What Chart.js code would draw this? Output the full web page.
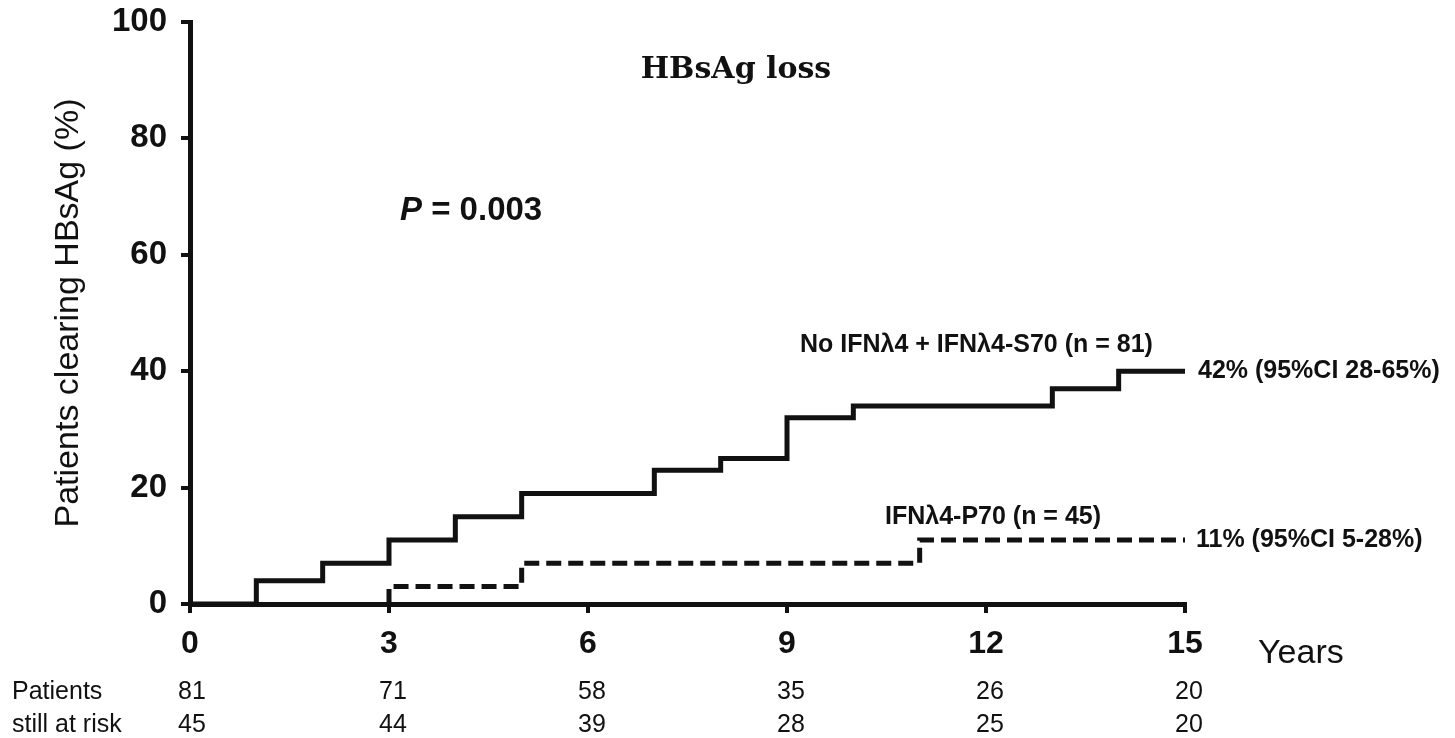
<!DOCTYPE html>
<html>
<head>
<meta charset="utf-8">
<script src="https://cdn.jsdelivr.net/npm/chart.js@4.4.1/dist/chart.umd.min.js"></script>
<style>
  html, body { margin: 0; padding: 0; background: #fff; }
  #wrap { width: 1455px; height: 738px; position: relative; }
</style>
</head>
<body>
<div id="wrap"><canvas id="km"></canvas></div>
<script>
// Kaplan-Meier cumulative HBsAg loss (%), event times in years
const solidYears  = [0, 1, 2, 3, 4, 5, 7, 8, 9, 10, 13, 14, 15];
const solidPct    = [0, 4, 7, 11, 15, 19, 23, 25, 32, 34, 37, 40, 40];
const dashedYears = [3, 3, 5, 11, 15];
const dashedPct   = [0, 3, 7, 11, 11];

const xTicks = [0, 3, 6, 9, 12, 15];
const yTicks = [0, 20, 40, 60, 80, 100];

// numbers at risk at each x tick
const riskLabels = ['Patients', 'still at risk'];
const riskGroupA = [81, 71, 58, 35, 26, 20];
const riskGroupB = [45, 44, 39, 28, 25, 20];

const groupALabel = 'No IFN\u03bb4 + IFN\u03bb4-S70 (n = 81)';
const groupBLabel = 'IFN\u03bb4-P70 (n = 45)';
const groupAEnd = '42% (95%CI 28-65%)';
const groupBEnd = '11% (95%CI 5-28%)';
const pValue = '0.003';
const titleText = 'HBsAg loss';

const toPoints = (xs, ys) => xs.map((x, i) => ({ x: x, y: ys[i] }));

const SANS = '"Liberation Sans", Arial, sans-serif';

const annotations = {
  id: 'annotations',
  afterDatasetsDraw(chart) {
    const { ctx, scales: { x, y } } = chart;
    ctx.save();
    ctx.fillStyle = '#111';
    ctx.textBaseline = 'middle';

    // title
    ctx.font = 'bold 30px "DejaVu Serif", "Liberation Serif", serif';
    ctx.textAlign = 'center';
    ctx.fillText(titleText, 736, 70);

    // P value
    ctx.textAlign = 'left';
    ctx.font = 'italic bold 33px ' + SANS;
    ctx.fillText('P', 400, 211);
    const pw = ctx.measureText('P').width;
    ctx.font = 'bold 33px ' + SANS;
    ctx.fillText(' = ' + pValue, 400 + pw, 211);

    // group labels
    ctx.font = 'bold 25px ' + SANS;
    ctx.fillText(groupALabel, 800, 345);
    ctx.fillText(groupBLabel, 885, 517);
    ctx.fillText(groupAEnd, 1198, y.getPixelForValue(solidPct[solidPct.length - 1]));
    ctx.fillText(groupBEnd, 1196, y.getPixelForValue(dashedPct[dashedPct.length - 1]));

    // x-axis unit
    ctx.font = '34px ' + SANS;
    ctx.fillText('Years', 1258, 654);

    // risk table
    ctx.font = '25px ' + SANS;
    ctx.fillText(riskLabels[0], 12, 692);
    ctx.fillText(riskLabels[1], 12, 725);
    ctx.textAlign = 'center';
    xTicks.forEach((t, i) => {
      const px = x.getPixelForValue(t) + (i === 0 ? 2 : 4);
      ctx.fillText(String(riskGroupA[i]), px, 692);
      ctx.fillText(String(riskGroupB[i]), px, 725);
    });
    ctx.restore();
  }
};

new Chart(document.getElementById('km'), {
  type: 'line',
  data: {
    datasets: [
      {
        label: groupALabel,
        data: toPoints(solidYears, solidPct),
        stepped: true,
        borderColor: '#111',
        borderWidth: 5,
        pointRadius: 0,
        fill: false,
        borderCapStyle: 'butt',
        borderJoinStyle: 'miter'
      },
      {
        label: groupBLabel,
        data: toPoints(dashedYears, dashedPct),
        stepped: true,
        borderColor: '#111',
        borderWidth: 5,
        borderDash: [15, 7],
        pointRadius: 0,
        fill: false,
        borderCapStyle: 'butt',
        borderJoinStyle: 'miter'
      }
    ]
  },
  options: {
    responsive: true,
    maintainAspectRatio: false,
    animation: false,
    layout: { padding: { left: 0, right: 270, top: 22, bottom: 0 } },
    plugins: { legend: { display: false }, tooltip: { enabled: false } },
    scales: {
      x: {
        type: 'linear',
        min: 0, max: 15,
        afterBuildTicks(scale) { scale.ticks = xTicks.map(v => ({ value: v })); },
        afterFit(scale) {
          scale.height = 134;
          scale.paddingLeft = 0;
          scale.paddingRight = 0;
        },
        border: { display: true, color: '#111', width: 5 },
        grid: { drawOnChartArea: false, color: '#111', lineWidth: 4, tickLength: 9 },
        ticks: {
          color: '#111',
          padding: 12,
          maxRotation: 0,
          font: { family: SANS, size: 32, weight: 'bold' }
        }
      },
      y: {
        min: 0, max: 100,
        afterBuildTicks(scale) { scale.ticks = yTicks.map(v => ({ value: v })); },
        afterFit(scale) {
          scale.width = 190;
          scale.paddingTop = 0;
          scale.paddingBottom = 0;
        },
        border: { display: true, color: '#111', width: 5 },
        grid: { drawOnChartArea: false, color: '#111', lineWidth: 4, tickLength: 9 },
        title: {
          display: true,
          text: 'Patients clearing HBsAg (%)',
          color: '#111',
          padding: { top: 48, bottom: 0 },
          font: { family: SANS, size: 34 }
        },
        ticks: {
          color: '#111',
          padding: 14,
          font: { family: SANS, size: 33, weight: 'bold' }
        }
      }
    }
  },
  plugins: [annotations]
});
</script>
</body>
</html>
